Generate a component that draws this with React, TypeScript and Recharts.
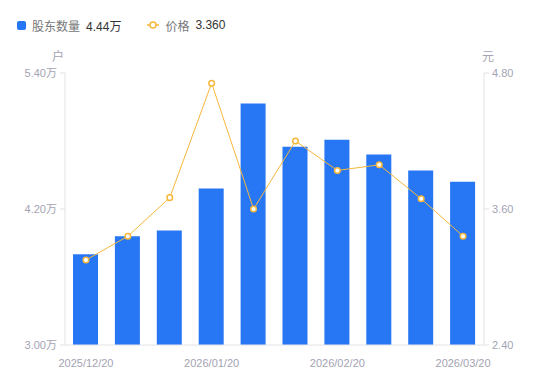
import React from 'react';
import { ComposedChart, Bar, Line, XAxis, YAxis } from 'recharts';

const dates = ['2025/12/20', '2025/12/31', '2026/01/10', '2026/01/20', '2026/01/31', '2026/02/10', '2026/02/20', '2026/02/28', '2026/03/10', '2026/03/20'];
const holders = [3.80, 3.96, 4.01, 4.38, 5.13, 4.75, 4.81, 4.68, 4.54, 4.44];
const prices = [3.15, 3.36, 3.70, 4.71, 3.60, 4.20, 3.94, 3.99, 3.69, 3.36];
const leftTicks = [3.0, 4.2, 5.4];
const rightTicks = [2.4, 3.6, 4.8];

const data = dates.map((d, i) => ({ date: d, holders: holders[i], price: prices[i] }));

const FONT = '"Liberation Sans", "Noto Sans CJK SC", sans-serif';
const BLUE = '#2777f5';
const ORANGE = '#f6b73c';
const TICK = '#a3a3b3';
const AXIS = '#e3e3e8';

export default function App() {
  const last = data[data.length - 1];
  return (
    <div style={{ position: 'absolute', left: 0, top: 0, width: 550, height: 381, fontFamily: FONT, background: '#fff' }}>
      <div style={{ position: 'absolute', left: 17, top: 16, display: 'flex', alignItems: 'center', fontSize: 12, height: 18, whiteSpace: 'nowrap' }}>
        <span style={{ display: 'inline-block', width: 9, height: 9, background: BLUE, borderRadius: 2 }} />
        <span style={{ marginLeft: 6, color: '#777' }}>股东数量</span>
        <span style={{ marginLeft: 6, color: '#333' }}>{last.holders.toFixed(2)}万</span>
        <svg width={12} height={10} style={{ marginLeft: 26 }}>
          <line x1={0} y1={5} x2={12} y2={5} stroke={ORANGE} strokeWidth={1.5} />
          <circle cx={6} cy={5} r={3} fill="#fff" stroke={ORANGE} strokeWidth={1.5} />
        </svg>
        <span style={{ marginLeft: 6, color: '#777' }}>价格</span>
        <span style={{ marginLeft: 6, color: '#333' }}>{last.price.toFixed(3)}</span>
      </div>
      <ComposedChart width={550} height={381} data={data} margin={{ top: 73, right: 0, bottom: 0, left: 0 }}>
        <XAxis
          dataKey="date"
          interval={2}
          tickLine={false}
          tickMargin={8}
          height={36}
          axisLine={{ stroke: AXIS }}
          tick={{ fill: TICK, fontSize: 11, fontFamily: FONT }}
        />
        <YAxis
          yAxisId="left"
          width={65}
          domain={[3.0, 5.4]}
          ticks={leftTicks}
          tickFormatter={(v: number) => `${v.toFixed(2)}万`}
          axisLine={{ stroke: AXIS }}
          tickLine={{ stroke: AXIS }}
          tickSize={5}
          tickMargin={3}
          tick={{ fill: TICK, fontSize: 11, fontFamily: FONT }}
          label={{
            content: (p: any) => (
              <text x={p.viewBox.x + p.viewBox.width - 7} y={p.viewBox.y - 12} textAnchor="middle" fill={TICK} fontSize={12} fontFamily={FONT}>户</text>
            ),
          }}
        />
        <YAxis
          yAxisId="right"
          orientation="right"
          width={66}
          domain={[2.4, 4.8]}
          ticks={rightTicks}
          tickFormatter={(v: number) => v.toFixed(2)}
          axisLine={{ stroke: AXIS }}
          tickLine={{ stroke: AXIS }}
          tickSize={5}
          tickMargin={3}
          tick={{ fill: TICK, fontSize: 11, fontFamily: FONT }}
          label={{
            content: (p: any) => (
              <text x={p.viewBox.x + 4} y={p.viewBox.y - 12} textAnchor="middle" fill={TICK} fontSize={12} fontFamily={FONT}>元</text>
            ),
          }}
        />
        <Bar yAxisId="left" dataKey="holders" fill={BLUE} barSize={25} isAnimationActive={false} />
        <Line
          yAxisId="right"
          dataKey="price"
          type="linear"
          stroke={ORANGE}
          strokeWidth={1}
          dot={{ r: 2.8, fill: '#fff', stroke: ORANGE, strokeWidth: 1.5 }}
          activeDot={false}
          isAnimationActive={false}
        />
      </ComposedChart>
    </div>
  );
}
